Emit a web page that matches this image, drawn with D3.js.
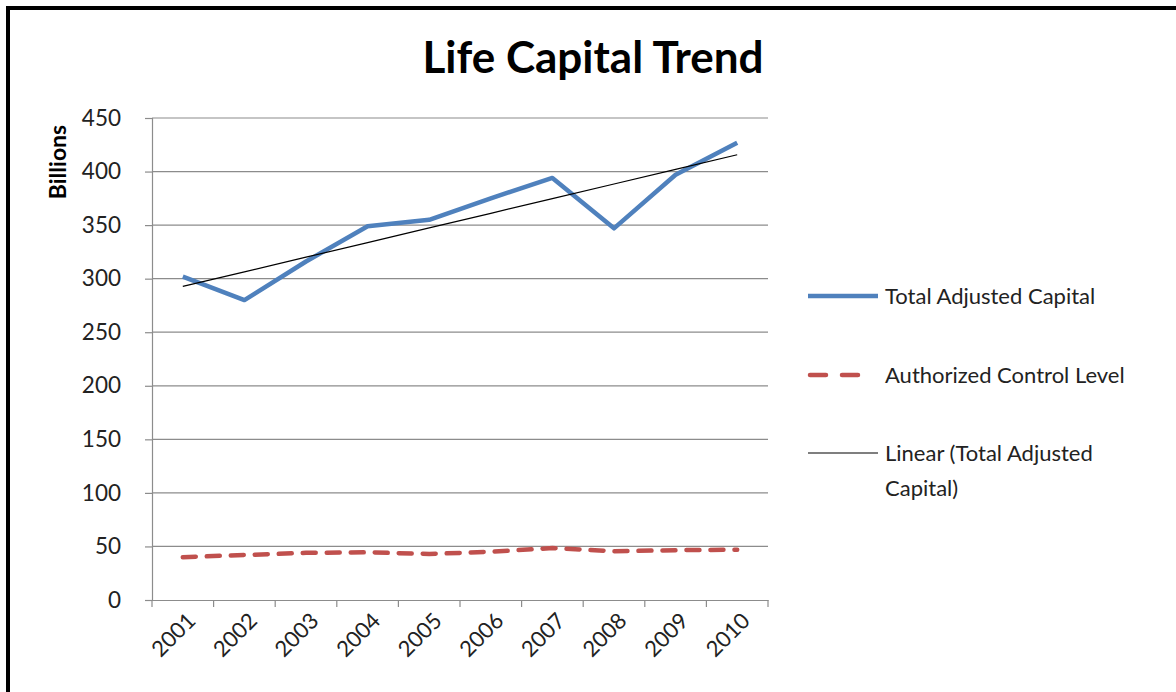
<!DOCTYPE html>
<html><head><meta charset="utf-8">
<script src="https://cdn.jsdelivr.net/npm/d3@7"></script>
<style>
html,body{margin:0;padding:0;background:#fff;}
svg{display:block;}
</style></head>
<body>
<script>
const years = ["2001","2002","2003","2004","2005","2006","2007","2008","2009","2010"];
const totalAdjustedCapital = [302, 280, 316, 349, 355, 375, 394, 347, 397, 427];
const authorizedControlLevel = [40, 42, 44, 44.5, 43, 45, 48.5, 45.5, 46.5, 47];
const yTicks = [0, 50, 100, 150, 200, 250, 300, 350, 400, 450];
const seriesNames = ["Total Adjusted Capital", "Authorized Control Level", "Linear (Total Adjusted Capital)"];

const W = 1176, H = 692;
const font = "Lato, 'Open Sans', sans-serif";
const svg = d3.select("body").append("svg").attr("width", W).attr("height", H);

// frame
svg.append("rect").attr("x", 8).attr("y", 8).attr("width", W + 20).attr("height", H + 20)
  .attr("fill", "#fff").attr("stroke", "#000").attr("stroke-width", 4);

const L = 152, R = 768, T = 118, B = 600;
const x = d3.scaleBand().domain(years).range([L, R]);
const y = d3.scaleLinear().domain([0, 450]).range([B, T]);

// gridlines
svg.append("g").selectAll("line").data(yTicks.filter(d => d > 0)).join("line")
  .attr("x1", L).attr("x2", R).attr("y1", d => y(d)).attr("y2", d => y(d))
  .attr("stroke", "#8c8c8c").attr("stroke-width", 1.2);

// y axis
const yAxis = svg.append("g").attr("transform", `translate(${L},0)`)
  .call(d3.axisLeft(y).tickValues(yTicks).tickSize(7).tickPadding(24));
yAxis.select(".domain").attr("stroke", "#8c8c8c").attr("stroke-width", 1.2);
yAxis.selectAll(".tick line").attr("stroke", "#8c8c8c").attr("stroke-width", 1.2);
yAxis.selectAll(".tick text").attr("font-family", font).attr("font-size", 22.5).attr("fill", "#222");

// x axis
const xAxis = svg.append("g").attr("transform", `translate(0,${B})`)
  .call(d3.axisBottom(x).tickSize(0).tickSizeOuter(0));
xAxis.select(".domain").attr("stroke", "#8c8c8c").attr("stroke-width", 1.2);
xAxis.selectAll(".tick text").attr("font-family", font).attr("font-size", 22).attr("fill", "#222")
  .attr("text-anchor", "end").attr("dy", 0)
  .attr("transform", "translate(12,20) rotate(-45)");
// category boundary ticks
const bounds = years.map(d => x(d)).concat([R]);
svg.append("g").selectAll("line").data(bounds).join("line")
  .attr("x1", d => d).attr("x2", d => d).attr("y1", B).attr("y2", B + 7)
  .attr("stroke", "#8c8c8c").attr("stroke-width", 1.2);

const cx = d => x(d) + x.bandwidth() / 2;

// trend (least squares)
const n = years.length;
const xs = d3.range(1, n + 1);
const mx = d3.mean(xs), my = d3.mean(totalAdjustedCapital);
const slope = d3.sum(xs, (v, i) => (v - mx) * (totalAdjustedCapital[i] - my)) / d3.sum(xs, v => (v - mx) ** 2);
const icpt = my - slope * mx;
const trend = xs.map(v => icpt + slope * v);

const line = d3.line().x((d, i) => cx(years[i])).y(d => y(d));

svg.append("path").datum(authorizedControlLevel).attr("d", line)
  .attr("fill", "none").attr("stroke", "#C0504D").attr("stroke-width", 4.5)
  .attr("stroke-dasharray", "13,11").attr("stroke-linecap", "round");

svg.append("path").datum(totalAdjustedCapital).attr("d", line)
  .attr("fill", "none").attr("stroke", "#4F81BD").attr("stroke-width", 4.5)
  .attr("stroke-linejoin", "round");

svg.append("path").datum(trend).attr("d", line)
  .attr("fill", "none").attr("stroke", "#000").attr("stroke-width", 1.2);

// title
svg.append("text").attr("x", 593).attr("y", 73).attr("text-anchor", "middle")
  .attr("font-family", font).attr("font-weight", "bold").attr("font-size", 44)
  .attr("fill", "#000").text("Life Capital Trend");

// y label
svg.append("text").attr("transform", "translate(66,162) rotate(-90)").attr("text-anchor", "middle")
  .attr("font-family", font).attr("font-weight", "bold").attr("font-size", 23)
  .attr("fill", "#000").text("Billions");

// legend
const lg = svg.append("g");
const ly = [296, 375, 453];
lg.append("line").attr("x1", 808).attr("x2", 878).attr("y1", ly[0]).attr("y2", ly[0])
  .attr("stroke", "#4F81BD").attr("stroke-width", 4.5);
lg.append("line").attr("x1", 810).attr("x2", 858).attr("y1", ly[1]).attr("y2", ly[1])
  .attr("stroke", "#C0504D").attr("stroke-width", 4.5).attr("stroke-dasharray", "16,16").attr("stroke-linecap", "round");
lg.append("line").attr("x1", 808).attr("x2", 878).attr("y1", ly[2]).attr("y2", ly[2])
  .attr("stroke", "#000").attr("stroke-width", 1.2);
const lt = (t, yy) => lg.append("text").attr("x", 885).attr("y", yy).attr("dy", "0.35em")
  .attr("font-family", font).attr("font-size", 22).attr("fill", "#222").text(t);
lt(seriesNames[0], ly[0]);
lt(seriesNames[1], ly[1]);
lt("Linear (Total Adjusted", ly[2]);
lt("Capital)", ly[2] + 35);
</script>
</body></html>
